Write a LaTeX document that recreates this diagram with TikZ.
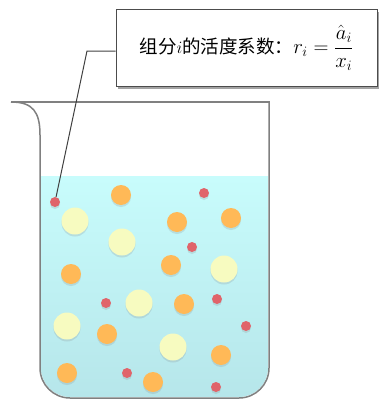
\documentclass[tikz,border=0pt]{standalone}
\usepackage{fontspec}
\newfontfamily\cjk{Noto Sans CJK SC}
\usetikzlibrary{shadows}

\definecolor{watertop}{HTML}{C8FCFC}
\definecolor{waterbottom}{HTML}{B6E6EA}
\definecolor{glass}{HTML}{808080}
\definecolor{ionred}{HTML}{E0646A}
\definecolor{molorange}{HTML}{FFB957}
\definecolor{molyellow}{HTML}{F7FBC0}

\begin{document}
\begin{tikzpicture}[x=1pt, y=-1pt,
    particle/.style={circle, inner sep=0pt, draw=none,
        drop shadow={shadow xshift=0pt, shadow yshift=-2pt, opacity=0.2}},
    ion/.style={particle, fill=ionred, minimum size=10pt},
    mid/.style={particle, fill=molorange, minimum size=20pt},
    big/.style={particle, fill=molyellow, minimum size=27pt},
    leader/.style={draw=black!75, line width=1pt}]
    \useasboundingbox (0,0) rectangle (379,399);

    % the solution in the beaker
    \begin{scope}
        \clip[rounded corners=29pt] (41,100) rectangle (268,397);
        \shade[top color=watertop, bottom color=waterbottom] (41,176) rectangle (268,397);
    \end{scope}

    % the particles in the solution
    \foreach \x/\y [count=\k] in {75/221, 122/242, 224/269, 139/303, 67/326, 173/347}
        \node[big] (big\k) at (\x,\y) {};
    \foreach \x/\y [count=\k] in {121/195, 177/222, 231/218, 171/265, 71/274,
                                  184/304, 107/334, 221/355, 67/373, 153/382}
        \node[mid] (mid\k) at (\x,\y) {};
    \foreach \x/\y [count=\k] in {55/202, 204/193, 192/247, 106/303,
                                  217/299, 246/326, 127/373, 216/387}
        \node[ion] (ion\k) at (\x,\y) {};

    % the beaker
    \draw[glass, line width=1.5pt] (11,102) -- (270,102);
    \draw[glass, line width=1.5pt] (11,102) .. controls (33,102) and (40,112) .. (40,135);
    \draw[glass, line width=1.5pt, rounded corners=30pt] (40,135) -- (40,398) -- (269,398) -- (269,102);

    % the label and its leader line
    \node[draw=black!70, fill=white, line width=0.8pt,
          minimum width=261pt, minimum height=77pt,
          font=\fontsize{18.5}{22}\selectfont,
          drop shadow={shadow xshift=2pt, shadow yshift=-3pt, fill=black!45, opacity=0.8}]
        (label) at (246.5,47.5) {\cjk 组分$i$的活度系数：{\huge$r_i=\displaystyle\frac{\hat{a}_i}{x_i}$}};
    \coordinate (bend) at (87,51);
    \draw[leader] (ion1) -- (bend) -- (bend -| label.west);
\end{tikzpicture}
\end{document}
